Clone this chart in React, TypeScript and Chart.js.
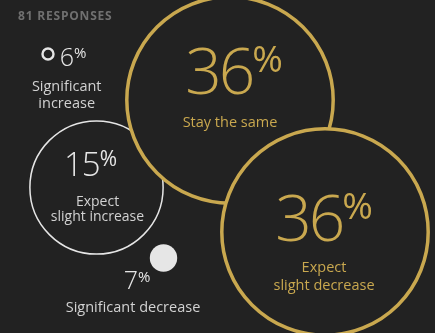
import React, { useEffect, useRef } from "react";
import { Chart, registerables } from "chart.js";

Chart.register(...registerables);

// ---- data ----
const categories = [
  "Expect\nslight increase",
  "Significant\nincrease",
  "Significant decrease",
  "Stay the same",
  "Expect\nslight decrease",
];
const values = [15, 6, 7, 36, 36];
const responsesLabel = "81 RESPONSES";
// layout of the packed bubbles (scale units)
const posX = [96.5, 48, 163.5, 230, 325];
const posY = [187.5, 54, 258, 100, 232];

// ---- styling ----
const BG = "#222222";
const GOLD = "#c9a84f";
const WHITE = "#e6e6e6";
const LABEL_W = "#d2d2d2";
const NUM_FONT = "'Open Sans', sans-serif";
const LABEL_FONT = "'Open Sans', sans-serif";

type Sty = {
  radius: (v: number) => number;
  fill: string;
  border: string;
  bw: number;
  color: string;
  labelColor: string;
  numSize: number;
  numSpacing: number;
  pctSize: number;
  numDx: number;
  numDy: number;
  pctRise: number;
  labelSize: number;
  labelDx: number;
  labelDy: number[];
};

const big = (v: number) => 17.2 * Math.sqrt(v);

const styles: Sty[] = [
  { radius: big, fill: BG, border: WHITE, bw: 1.5, color: WHITE, labelColor: LABEL_W, numSize: 33, numSpacing: -1, pctSize: 21, numDx: -6, numDy: -11.5, pctRise: 10, labelSize: 14, labelDx: 1, labelDy: [18.5, 33] },
  { radius: () => 5.5, fill: BG, border: WHITE, bw: 2.4, color: WHITE, labelColor: LABEL_W, numSize: 25, numSpacing: 0, pctSize: 15, numDx: 25, numDy: 12, pctRise: 8, labelSize: 14.5, labelDx: 18.7, labelDy: [36.7, 54] },
  { radius: () => 13.7, fill: WHITE, border: WHITE, bw: 0, color: WHITE, labelColor: LABEL_W, numSize: 25, numSpacing: 0, pctSize: 15, numDx: -26.5, numDy: 31, pctRise: 7, labelSize: 14.5, labelDx: -30.5, labelDy: [53.7] },
  { radius: big, fill: BG, border: GOLD, bw: 3.5, color: GOLD, labelColor: GOLD, numSize: 64, numSpacing: -3, pctSize: 37, numDx: 4, numDy: -6, pctRise: 22, labelSize: 14.5, labelDx: 0, labelDy: [26.5] },
  { radius: big, fill: BG, border: GOLD, bw: 3.5, color: GOLD, labelColor: GOLD, numSize: 64, numSpacing: -3, pctSize: 37, numDx: -1, numDy: 9, pctRise: 22, labelSize: 14.5, labelDx: -1, labelDy: [39.5, 58] },
];

const textPlugin = {
  id: "bubbleText",
  afterDatasetsDraw(chart: any) {
    const ctx: any = chart.ctx;
    const meta = chart.getDatasetMeta(0);
    ctx.save();
    meta.data.forEach((el: any, i: number) => {
      const s = styles[i];
      const cx = el.x;
      const cy = el.y;
      const num = String(values[i]);
      ctx.letterSpacing = `${s.numSpacing}px`;
      ctx.font = `200 ${s.numSize}px ${NUM_FONT}`;
      const wNum = ctx.measureText(num).width;
      ctx.letterSpacing = "0px";
      ctx.font = `400 ${s.pctSize}px ${NUM_FONT}`;
      const wPct = ctx.measureText("%").width;
      const total = wNum + wPct;
      const left = cx + s.numDx - total / 2;
      const base = cy + s.numDy;
      ctx.fillStyle = s.color;
      ctx.textAlign = "left";
      ctx.textBaseline = "alphabetic";
      ctx.letterSpacing = `${s.numSpacing}px`;
      ctx.font = `200 ${s.numSize}px ${NUM_FONT}`;
      ctx.fillText(num, left, base);
      ctx.letterSpacing = "0px";
      ctx.font = `400 ${s.pctSize}px ${NUM_FONT}`;
      ctx.fillText("%", left + wNum, base - s.pctRise);
      ctx.fillStyle = s.labelColor;
      ctx.textAlign = "center";
      ctx.font = `400 ${s.labelSize}px ${LABEL_FONT}`;
      const lines = categories[i].split("\n");
      lines.forEach((ln, k) => {
        ctx.fillText(ln, cx + s.labelDx, cy + s.labelDy[k]);
      });
    });
    ctx.fillStyle = "#707070";
    ctx.textAlign = "left";
    ctx.font = `700 12px ${LABEL_FONT}`;
    ctx.letterSpacing = "0.8px";
    ctx.fillText(responsesLabel, 18, 20);
    ctx.restore();
  },
};

export default function App() {
  const ref = useRef<HTMLCanvasElement>(null);
  useEffect(() => {
    document.body.style.margin = "0";
    document.body.style.background = BG;
    const canvas = ref.current!;
    const chart = new Chart(canvas, {
      type: "bubble",
      data: {
        labels: categories,
        datasets: [
          {
            data: values.map((v, i) => ({ x: posX[i], y: posY[i], r: styles[i].radius(v) })),
            backgroundColor: styles.map((s) => s.fill),
            borderColor: styles.map((s) => s.border),
            borderWidth: styles.map((s) => s.bw),
            clip: false as any,
          },
        ],
      },
      options: {
        animation: false,
        responsive: false,
        maintainAspectRatio: false,
        layout: { padding: 0, autoPadding: false } as any,
        plugins: { legend: { display: false }, tooltip: { enabled: false } },
        scales: {
          x: { type: "linear", min: 0, max: 435, display: false },
          y: { type: "linear", min: 0, max: 333, reverse: true, display: false },
        },
      },
      plugins: [textPlugin],
    });
    return () => chart.destroy();
  }, []);
  return (
    <div style={{ width: 435, height: 333, background: BG, overflow: "hidden" }}>
      <canvas ref={ref} width={435} height={333} style={{ display: "block" }} />
    </div>
  );
}
